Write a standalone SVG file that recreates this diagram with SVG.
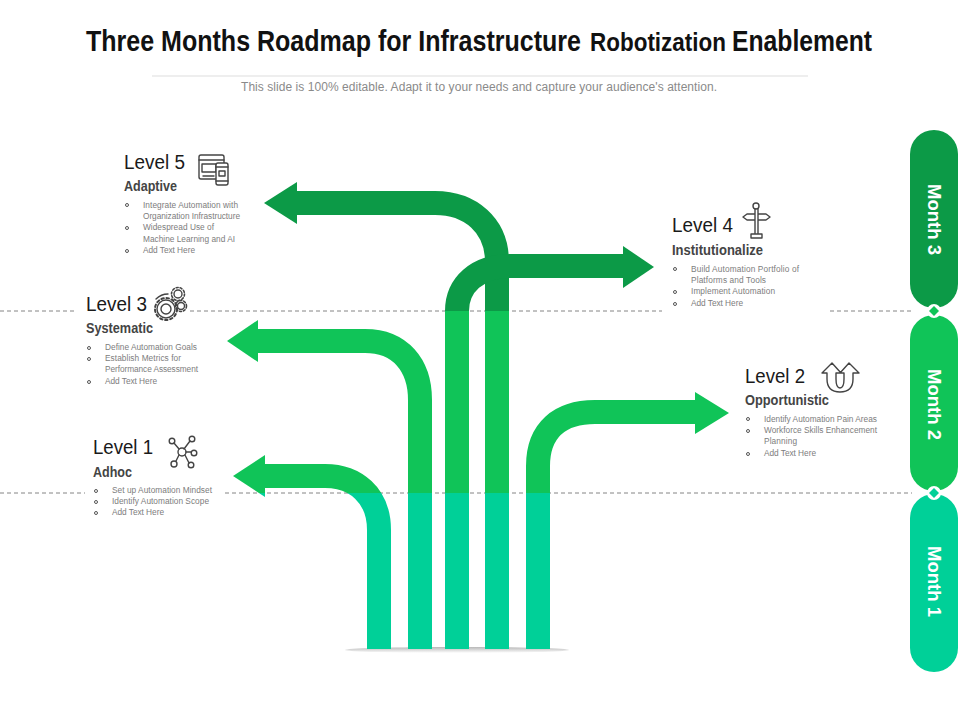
<svg xmlns="http://www.w3.org/2000/svg" width="960" height="720" viewBox="0 0 960 720">
<style>
text{font-family:"Liberation Sans",Arial,sans-serif}
.t{font-weight:700;fill:#111;font-size:26px}
.t2{font-weight:700;fill:#111;font-size:23.500px}
.lv{font-size:20px;fill:#1a1a1a}
.sub{font-size:15px;font-weight:700;fill:#444}
.b{font-size:8.300px;fill:#7d7d7d}
.dot{fill:none;stroke:#555;stroke-width:1}
.ic{fill:none;stroke:#444;stroke-width:1.400;stroke-linecap:round;stroke-linejoin:round}
.m{font-size:18px;font-weight:700;fill:#fff}
.dash{stroke:#666;stroke-width:.8;stroke-dasharray:4 3;fill:none}
.a{fill:none;stroke-width:24}
.h{stroke:none}
</style>
<defs>
<linearGradient id="sh" x1="0" y1="0" x2="0" y2="1"><stop offset="0" stop-color="#999"/><stop offset="1" stop-color="#fff"/></linearGradient>
<clipPath id="top"><rect x="0" y="0" width="960" height="311"/></clipPath>
<clipPath id="mid"><rect x="0" y="311" width="960" height="182"/></clipPath>
<clipPath id="low"><rect x="0" y="493" width="960" height="227"/></clipPath>
<g id="arrows">
<path class="a" d="M379 649V530C379 495 355 476 325 476H262"/>
<path class="h" d="M233 476L265 455V497Z" fill="currentColor"/>
<path class="a" d="M420 649V400C420 365 400 341 365 341H255"/>
<path class="h" d="M227 341L258 320V362Z" fill="currentColor"/>
<path class="a" d="M538 649V466C538 430 560 412 595 412H698"/>
<path class="h" d="M729 413L695 392V434Z" fill="currentColor"/>
<path class="a" d="M497 649V262C497 225 470 203 435 203H294"/>
<path class="h" d="M264 203L297 182V224Z" fill="currentColor"/>
<path class="a" d="M457 649V311C457 285 477 266 510 266H626"/>
<path class="h" d="M654 267L623 246V288Z" fill="currentColor"/>
</g>
</defs>

<g id="title">
<text class="t" transform="translate(86 51) scale(1 1.120)" textLength="495" lengthAdjust="spacingAndGlyphs">Three Months Roadmap for Infrastructure</text>
<text class="t2" transform="translate(590 51) scale(1 1.120)" textLength="136" lengthAdjust="spacingAndGlyphs">Robotization</text>
<text class="t" transform="translate(732 51) scale(1 1.120)" textLength="140" lengthAdjust="spacingAndGlyphs">Enablement</text>
<line x1="152" y1="76" x2="808" y2="76" stroke="#ddd" stroke-width="1"/>
<text x="241" y="91" font-size="12" fill="#8a8a8a" textLength="476" lengthAdjust="spacing">This slide is 100% editable. Adapt it to your needs and capture your audience's attention.</text>
</g>

<g id="dashes">
<path class="dash" d="M0 311H76M190 311H662M830 311H912"/>
<path class="dash" d="M0 493H85M225 493H912"/>
</g>

<g id="connectors" stroke-linejoin="round">
<ellipse cx="457" cy="650" rx="112" ry="3" fill="url(#sh)" opacity=".7"/>
<use href="#arrows" clip-path="url(#top)" stroke="#0C9A47" color="#0C9A47"/>
<use href="#arrows" clip-path="url(#mid)" stroke="#10C458" color="#10C458"/>
<use href="#arrows" clip-path="url(#low)" stroke="#00D098" color="#00D098"/>
</g>

<g id="level5">
<text class="lv" x="124" y="169" textLength="61" lengthAdjust="spacingAndGlyphs">Level 5</text>
<text class="sub" x="124" y="191" textLength="53" lengthAdjust="spacingAndGlyphs">Adaptive</text>
<g class="ic" stroke-width="1.100">
<rect x="199" y="155" width="25" height="24" rx="2"/><path d="M199 160H224M202 164H216V172H202ZM203 176H214"/>
<rect x="216" y="163" width="12" height="22" rx="2" fill="#fff"/><path d="M216 167H228M216 181H228M219 171H225V176H219Z"/>
</g>
<g class="dot"><circle cx="127" cy="205" r="1.500"/><circle cx="127" cy="228" r="1.500"/><circle cx="127" cy="251" r="1.500"/></g>
<text class="b" x="143" y="208" textLength="95">Integrate  Automation with</text>
<text class="b" x="143" y="219" textLength="97">Organization Infrastructure</text>
<text class="b" x="143" y="230" textLength="71">Widespread Use of</text>
<text class="b" x="143" y="242" textLength="92">Machine Learning and AI</text>
<text class="b" x="143" y="253" textLength="52">Add Text Here</text>
</g>

<g id="level4">
<text class="lv" x="672" y="232" textLength="61" lengthAdjust="spacingAndGlyphs">Level 4</text>
<text class="sub" x="672" y="255" textLength="91" lengthAdjust="spacingAndGlyphs">Institutionalize</text>
<g class="ic">
<circle cx="756" cy="206" r="3"/><path d="M755 209V233M758 209V233M751 238V234H762V238ZM755 214H747L743 217L747 220H755M758 214H766L770 217L766 220H758"/>
</g>
<g class="dot"><circle cx="675" cy="269" r="1.500"/><circle cx="675" cy="292" r="1.500"/><circle cx="675" cy="304" r="1.500"/></g>
<text class="b" x="691" y="272" textLength="108">Build Automation Portfolio of</text>
<text class="b" x="691" y="283" textLength="75">Platforms and Tools</text>
<text class="b" x="691" y="294" textLength="84">Implement  Automation</text>
<text class="b" x="691" y="306" textLength="52">Add Text Here</text>
</g>

<g id="level3">
<text class="lv" x="86" y="311" textLength="61" lengthAdjust="spacingAndGlyphs">Level 3</text>
<text class="sub" x="86" y="333" textLength="67" lengthAdjust="spacingAndGlyphs">Systematic</text>
<g class="ic" stroke-width="1.100">
<circle cx="166" cy="309" r="9"/><circle cx="166" cy="309" r="5"/><circle cx="166" cy="309" r="11" stroke-dasharray="2.500 2.700" stroke-width="2"/>
<circle cx="178" cy="294" r="4"/><circle cx="178" cy="294" r="6.500" stroke-dasharray="2 2" stroke-width="1.600"/>
<circle cx="181" cy="306" r="3.500"/><circle cx="181" cy="306" r="5.500" stroke-dasharray="2 2" stroke-width="1.600"/>
<path d="M156 299Q161 294 168 294"/>
</g>
<g class="dot"><circle cx="89" cy="348" r="1.500"/><circle cx="89" cy="359" r="1.500"/><circle cx="89" cy="382" r="1.500"/></g>
<text class="b" x="105" y="350" textLength="92">Define Automation  Goals</text>
<text class="b" x="105" y="361" textLength="76">Establish Metrics  for</text>
<text class="b" x="105" y="372" textLength="93">Performance Assessment</text>
<text class="b" x="105" y="384" textLength="52">Add Text Here</text>
</g>

<g id="level2">
<text class="lv" x="745" y="383" textLength="60" lengthAdjust="spacingAndGlyphs">Level 2</text>
<text class="sub" x="745" y="405" textLength="84" lengthAdjust="spacingAndGlyphs">Opportunistic</text>
<g class="ic">
<path d="M827 373H822L832 363L841 373H836V379Q836 388 840 388Q844 388 844 379V373H840L849 363L859 373H853V379Q853 392 840 392Q827 392 827 379Z"/>
</g>
<g class="dot"><circle cx="748" cy="419" r="1.500"/><circle cx="748" cy="431" r="1.500"/><circle cx="748" cy="454" r="1.500"/></g>
<text class="b" x="764" y="422" textLength="113">Identify Automation Pain Areas</text>
<text class="b" x="764" y="433" textLength="113">Workforce Skills Enhancement</text>
<text class="b" x="764" y="444" textLength="33">Planning</text>
<text class="b" x="764" y="456" textLength="52">Add Text Here</text>
</g>

<g id="level1">
<text class="lv" x="93" y="454" textLength="60" lengthAdjust="spacingAndGlyphs">Level 1</text>
<text class="sub" x="93" y="477" textLength="39" lengthAdjust="spacingAndGlyphs">Adhoc</text>
<g class="ic" stroke-width="1.700">
<circle cx="182" cy="452" r="4"/><circle cx="192" cy="439" r="2.800"/><circle cx="172" cy="441" r="2.800"/><circle cx="194" cy="453" r="2.800"/><circle cx="174" cy="464" r="3"/><circle cx="191" cy="465" r="2.800"/>
<path d="M184 449L190 441M179 449L174 443M186 452H191M179 455L176 461M185 455L189 463"/>
</g>
<g class="dot"><circle cx="96" cy="491" r="1.500"/><circle cx="96" cy="502" r="1.500"/><circle cx="96" cy="513" r="1.500"/></g>
<text class="b" x="112" y="493" textLength="100">Set up Automation  Mindset</text>
<text class="b" x="112" y="504" textLength="97">Identify Automation Scope</text>
<text class="b" x="112" y="515" textLength="52">Add Text Here</text>
</g>

<g id="month3"><rect x="910" y="130" width="48" height="178" rx="24" fill="#0C9A47"/><text class="m" transform="translate(928 184) rotate(90)" textLength="71" lengthAdjust="spacingAndGlyphs">Month 3</text></g>
<g id="month2"><rect x="910" y="315" width="48" height="176" rx="24" fill="#10C458"/><text class="m" transform="translate(928 369) rotate(90)" textLength="71" lengthAdjust="spacingAndGlyphs">Month 2</text></g>
<g id="month1"><rect x="910" y="494" width="48" height="178" rx="24" fill="#00D098"/><text class="m" transform="translate(928 546) rotate(90)" textLength="71" lengthAdjust="spacingAndGlyphs">Month 1</text></g>
<g id="joints" fill="#fff">
<circle cx="934" cy="311" r="7"/><circle cx="934" cy="493" r="7"/>
<path d="M934 306L939 311L934 316L929 311Z" fill="#10C458"/>
<path d="M934 488L939 493L934 498L929 493Z" fill="#00D098"/>
</g>
</svg>
